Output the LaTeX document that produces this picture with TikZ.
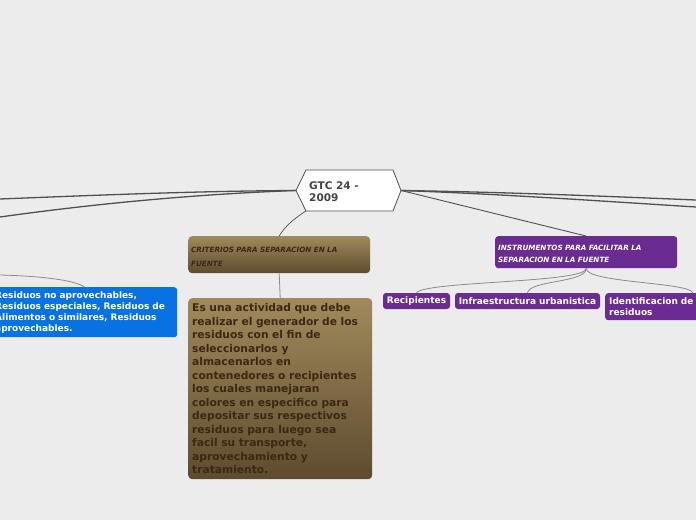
\documentclass[tikz,border=0pt]{standalone}
\usepackage{fontspec}
\setmainfont{DejaVu Sans}
\usetikzlibrary{shadings}
\definecolor{bg}{HTML}{ECECEC}
\definecolor{mainline}{HTML}{505050}
\definecolor{subline}{HTML}{8A8A8A}
\definecolor{browntop}{HTML}{A08A5C}
\definecolor{brownbot}{HTML}{5E4B2F}
\definecolor{browntext}{HTML}{3A2812}
\definecolor{purp}{HTML}{6A2C91}
\definecolor{bluebox}{HTML}{0872E2}
\definecolor{titletext}{HTML}{444444}
\tikzset{
  brownbox/.style={rectangle, rounded corners=4pt, top color=browntop, bottom color=brownbot, draw=none, align=left, text=browntext},
  purpbox/.style={rectangle, rounded corners=3pt, fill=purp, draw=none, text=white, align=left},
  bigline/.style={draw=mainline, line width=1.3pt},
  smallline/.style={draw=subline, line width=0.8pt},
}
\begin{document}
\begin{tikzpicture}[x=1pt,y=-1pt]
\fill[bg] (0,0) rectangle (696,520);
\useasboundingbox (0,0) rectangle (696,520);
\clip (0,0) rectangle (696,520);

% off-screen connector ends
\coordinate (l1) at (0,199);
\coordinate (l2) at (0,217);
\coordinate (r1) at (696,200);
\coordinate (r2) at (696,207);
\coordinate (bl) at (0,275);

% central topic
\node[rectangle, minimum width=105pt, minimum height=41pt, inner sep=0pt] (c) at (348.5,190.5) {};
\coordinate (cbl) at (306,211);

% connectors from centre
\draw[bigline] (c.west) .. controls (200,191) and (100,195) .. (l1);
\draw[bigline] (c.west) .. controls (200,194) and (100,203) .. (l2);
\draw[bigline] (c.east) .. controls (500,192) and (600,196) .. (r1);
\draw[bigline] (c.east) .. controls (500,194) and (600,201) .. (r2);
\draw[draw=mainline, line width=0.9pt] (c.east) -- (586,236);

\fill[white] (296,190.5) -- (306,170) -- (393,170) -- (401,190.5) -- (393,211) -- (306,211) -- cycle;
\draw[draw=mainline, line width=0.8pt] (296,190.5) -- (306,170) -- (393,170) -- (401,190.5) -- (393,211) -- (306,211) -- cycle;
\node[anchor=west, align=left, font=\fontsize{10.5}{12}\selectfont\bfseries, text=titletext, inner sep=0pt] (ctext) at (309,192) {GTC 24 -\\2009};

% criterios
\node[brownbox, anchor=north west, minimum width=182pt, minimum height=37pt, text width=176pt, inner xsep=3pt, inner ysep=0pt,
      font=\fontsize{7.2}{14}\selectfont\bfseries\itshape] (crit) at (188,236)
      {\rule{0pt}{10pt}CRITERIOS PARA SEPARACION EN LA\\FUENTE};
\draw[draw=mainline, line width=0.7pt] (cbl) .. controls (295,218) and (285,226) .. (crit.north);

% description
\node[brownbox, anchor=north west, minimum width=183pt, minimum height=181pt, text width=176pt, inner xsep=4pt, inner ysep=0pt,
      font=\fontsize{10.7}{13.5}\selectfont\bfseries] (desc) at (188,298)
      {Es una actividad que debe\\realizar el generador de los\\residuos con el fin de\\seleccionarlos y\\almacenarlos en\\contenedores o recipientes\\los cuales manejaran\\colores en especifico para\\depositar sus respectivos\\residuos para luego sea\\facil su transporte,\\aprovechamiento y\\tratamiento.};
\draw[smallline] (crit.south) -- (desc.north);

% instrumentos
\node[purpbox, anchor=north west, minimum width=181pt, minimum height=32pt, text width=176pt, inner xsep=3pt, inner ysep=0pt,
      font=\fontsize{7.2}{12}\selectfont\bfseries\itshape] (inst) at (495,236)
      {\rule{0pt}{8pt}INSTRUMENTOS PARA FACILITAR LA\\SEPARACION EN LA FUENTE};

\node[purpbox, minimum width=67pt, minimum height=16pt, inner xsep=3pt, inner ysep=0pt, font=\fontsize{9}{11}\selectfont\bfseries] (rec) at (416.5,301) {Recipientes};
\node[purpbox, minimum width=145pt, minimum height=16pt, inner xsep=3pt, inner ysep=0pt, font=\fontsize{9}{11}\selectfont\bfseries] (inf) at (527.5,301) {Infraestructura urbanistica};
\node[purpbox, anchor=north west, minimum width=176pt, minimum height=27pt, text width=170pt, inner xsep=4pt, inner ysep=0pt, font=\fontsize{9}{11}\selectfont\bfseries] (ide) at (605,293) {Identificacion de\\residuos};

\draw[smallline] (inst.south) .. controls (586,283) and (425,281) .. (rec.north);
\draw[smallline] (inst.south) .. controls (586,283) and (530,280) .. (inf.north);
\draw[smallline] (inst.south) .. controls (586,283) and (690,282) .. (693,293);

% blue box
\node[rectangle, rounded corners=3pt, fill=bluebox, draw=none, text=white, align=left, anchor=north west,
      minimum width=184pt, minimum height=50pt, text width=178pt, inner xsep=4pt, inner ysep=0pt,
      font=\fontsize{9}{11}\selectfont\bfseries] (blue) at (-9,287)
      {Residuos no aprovechables,\\Residuos especiales, Residuos de\\Alimentos o similares, Residuos\\aprovechables.};
\draw[smallline] (blue.north) .. controls (75,280) and (40,276) .. (bl);
\end{tikzpicture}
\end{document}
